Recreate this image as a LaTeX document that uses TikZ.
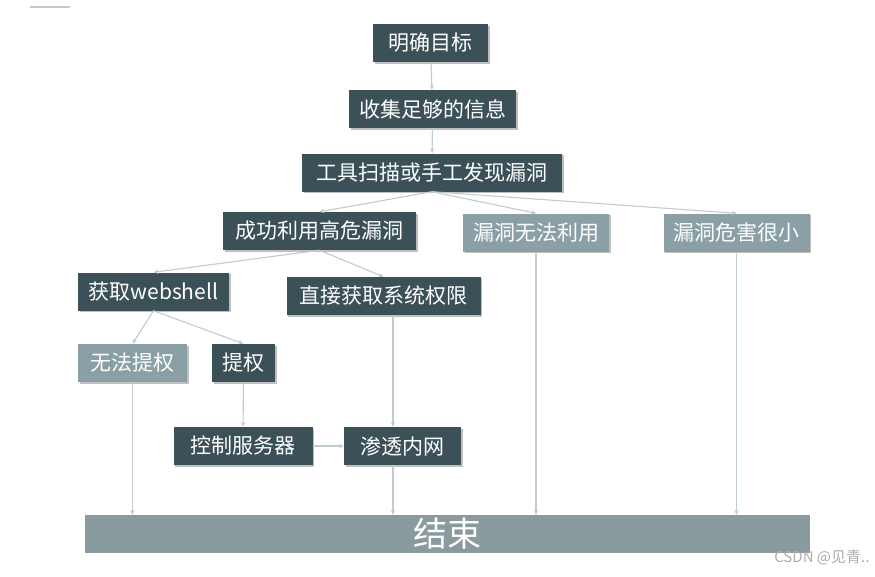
\documentclass[tikz,border=0pt]{standalone}
\usepackage{fontspec}
\setmainfont{Noto Sans CJK SC}
\usetikzlibrary{arrows.meta, positioning, shadows, calc}

\definecolor{boxdark}{HTML}{3B5157}
\definecolor{boxlight}{HTML}{8AA0A6}
\definecolor{boxend}{HTML}{8A9B9F}
\definecolor{linkgray}{HTML}{BFCCD0}

\tikzset{
  stepbox/.style={fill=boxdark, text=white, minimum height=38pt, inner xsep=6pt,
    font=\fontsize{21}{24}\selectfont,
    drop shadow={shadow xshift=1.5pt, shadow yshift=-1.5pt, fill=black, opacity=.25}},
  deadbox/.style={stepbox, fill=boxlight},
  link/.style={draw=linkgray, line width=1.1pt, -{Stealth[length=5pt, width=4.5pt]}},
}

\begin{document}
\begin{tikzpicture}[x=1pt, y=-1pt]
  \useasboundingbox (0,0) rectangle (875,576);
  \draw[gray!45, line width=1.6pt] (30,7) -- (70,7);

  % main line
  \node[stepbox, minimum width=115pt] (goal) at (430.5,43) {明确目标};
  \node[stepbox, minimum width=167pt] (info) at (432.5,109) {收集足够的信息};
  \node[stepbox, minimum width=260pt] (scan) at (432,172.5) {工具扫描或手工发现漏洞};
  \node[stepbox, minimum width=193pt] (exploit) at (319.5,231) {成功利用高危漏洞};
  \node[deadbox, minimum width=146pt] (unusable) at (536,232.5) {漏洞无法利用};
  \node[deadbox, minimum width=146pt] (lowrisk) at (736.5,232.5) {漏洞危害很小};

  % after exploiting
  \node[stepbox, minimum width=151pt] (webshell) at (153.5,291.5) {获取webshell};
  \node[stepbox, minimum width=194pt] (direct) at (383.5,296) {直接获取系统权限};
  \node[deadbox, minimum width=109pt] (noescal) at (132.5,363) {无法提权};
  \node[stepbox, minimum width=63pt] (escal) at (243.5,363) {提权};
  \node[stepbox, minimum width=139pt] (control) at (243,446) {控制服务器};
  \node[stepbox, minimum width=117pt] (intranet) at (402.5,446) {渗透内网};

  \node[fill=boxend, text=white, minimum width=725pt, minimum height=38pt, inner sep=0pt,
    font=\fontsize{34}{36}\selectfont] (end) at (447.5,534) {结束};
  \node[text=gray!65, font=\fontsize{15}{17}\selectfont, anchor=east] (mark) at (873,557) {CSDN @见青..};

  \draw[link] (goal) -- (info);
  \draw[link] (info) -- (scan);
  \draw[link] (scan.south) -- (exploit.north);
  \draw[link] (scan.south) -- (unusable.north);
  \draw[link] (scan.south) -- (lowrisk.north);
  \draw[link] (exploit.south) -- (webshell.north);
  \draw[link] (exploit.south) -- (direct.north);
  \draw[link] (webshell.south) -- (noescal.north);
  \draw[link] (webshell.south) -- (escal.north);
  \draw[link] (escal) -- (control);
  \draw[link] ($(direct.south)+(9.5,0)$) -- ($(intranet.north)+(-9.5,0)$);
  \draw[link] (control) -- (intranet);

  % everything ends here
  \draw[link] (noescal.south) -- (noescal.south |- end.north);
  \draw[link] ($(intranet.south)+(-9.5,0)$) -- ($(intranet.south |- end.north)+(-9.5,0)$);
  \draw[link] (unusable.south) -- (unusable.south |- end.north);
  \draw[link] (lowrisk.south) -- (lowrisk.south |- end.north);
\end{tikzpicture}
\end{document}
